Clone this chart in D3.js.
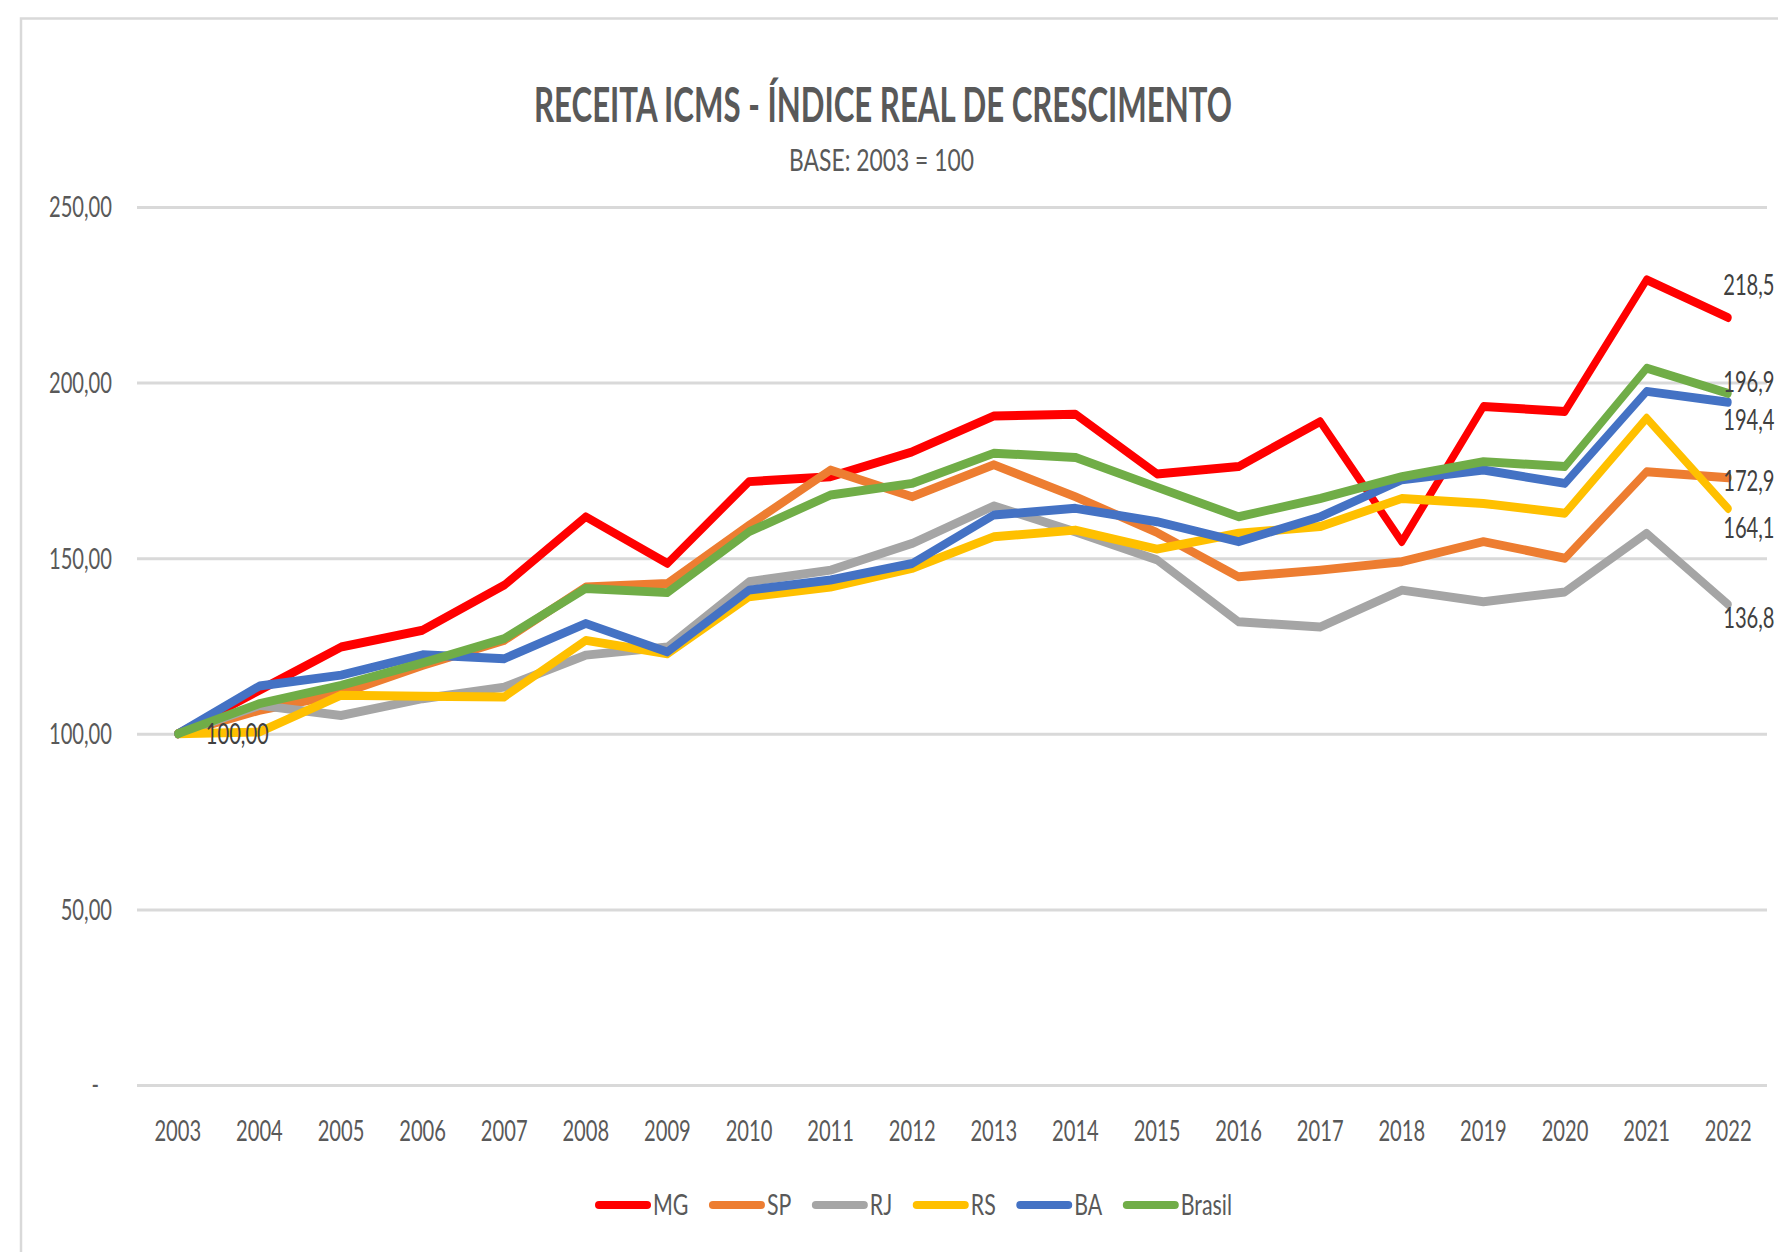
<!DOCTYPE html>
<html>
<head>
<meta charset="utf-8">
<script src="https://cdn.jsdelivr.net/npm/d3@7"></script>
<style>
  html, body { margin: 0; padding: 0; background: #ffffff; }
  svg { display: block; font-family: Lato, "Open Sans", sans-serif; }
</style>
</head>
<body>
<svg id="chart"></svg>
<script>
// 1. Data
const years = ["2003","2004","2005","2006","2007","2008","2009","2010","2011","2012",
  "2013","2014","2015","2016","2017","2018","2019","2020","2021","2022"];

const seriesNames = ["MG", "SP", "RJ", "RS", "BA", "Brasil"];
const seriesColors = ["#ff0000", "#ed7d31", "#a5a5a5", "#ffc000", "#4472c4", "#70ad47"];

const mg = [100, 112.4, 124.7, 129.5, 142.3, 161.8, 148.5, 171.8, 173.2, 180.3,
  190.5, 191.0, 174.0, 176.1, 188.9, 154.7, 193.2, 191.8, 229.3, 218.5];
const sp = [100, 106.7, 111.4, 119.5, 126.6, 141.8, 142.8, 159.4, 175.1, 167.5,
  176.6, 167.5, 157.3, 144.7, 146.6, 149.0, 154.7, 150.0, 174.6, 172.9];
const rj = [100, 108.1, 105.2, 110.0, 113.3, 122.4, 124.7, 143.3, 146.6, 154.2,
  164.9, 157.5, 149.5, 131.9, 130.4, 140.9, 137.6, 140.4, 157.1, 136.8];
const rs = [100, 100.5, 111.0, 110.7, 110.5, 126.6, 122.8, 139.0, 141.8, 147.1,
  156.1, 158.0, 152.6, 157.1, 159.0, 167.0, 165.6, 162.8, 189.9, 164.1];
const ba = [100, 113.6, 116.7, 122.5, 121.4, 131.4, 123.3, 140.9, 143.8, 148.5,
  162.3, 164.2, 160.4, 154.7, 161.8, 172.3, 175.1, 171.3, 197.5, 194.4];
const brasil = [100, 108.6, 113.8, 120.2, 127.1, 141.4, 140.2, 157.5, 168.0, 171.3,
  179.9, 178.7, 170.2, 161.8, 167.0, 173.2, 177.5, 176.1, 204.1, 196.9];

const seriesValues = [mg, sp, rj, rs, ba, brasil];
const yTicks = [0, 50, 100, 150, 200, 250];

// manual offsets of the end-of-line labels (as placed in the original)
const endLabelDy = [-32, 3, 14, 20, 18, -11];

// 2. SVG setup
const W = 1778, H = 1252;
const SX = 0.72;      // glyphs are squeezed horizontally in the original
const STRETCH = 1.3;  // lines are stretched vertically in the original
const textColor = "#595959";
const labelColor = "#404040";

const svg = d3.select("#chart").attr("width", W).attr("height", H);

svg.append("rect")
  .attr("x", 21).attr("y", 18.5)
  .attr("width", W).attr("height", H)
  .attr("fill", "#ffffff")
  .attr("stroke", "#d9d9d9")
  .attr("stroke-width", 2.5);

const ptBR = d3.formatLocale({ decimal: ",", thousands: ".", grouping: [3], currency: ["R$", ""] });
const fmt2 = ptBR.format(",.2f");
const fmt1 = ptBR.format(",.1f");

// 3. Scales
const x = d3.scaleBand().domain(years).range([137, 1769]);
const y = d3.scaleLinear().domain([0, 250]).range([1085, 207]);
const yL = y.copy().range(y.range().map((v) => v / STRETCH));
const xc = (yr) => x(yr) + x.bandwidth() / 2;

// 4. Gridlines and y axis
const yAxis = svg.append("g")
  .attr("transform", "translate(137,0)")
  .call(d3.axisLeft(y).tickValues(yTicks).tickSize(-(1767 - 137))
    .tickFormat((d) => (d === 0 ? "-" : fmt2(d))));
yAxis.select(".domain").remove();
yAxis.selectAll(".tick line").attr("stroke", "#d9d9d9").attr("stroke-width", 3);
yAxis.selectAll(".tick text")
  .attr("x", 0)
  .attr("dy", "0.35em")
  .attr("fill", textColor)
  .attr("font-size", 28)
  .attr("font-family", "Lato, 'Open Sans', sans-serif")
  .attr("transform", (d) => `translate(${d === 0 ? -38 : -25},0) scale(${SX},1)`);

// 5. x axis
const xAxis = svg.append("g")
  .attr("transform", `translate(0,${y(0)})`)
  .call(d3.axisBottom(x).tickSize(0));
xAxis.select(".domain").remove();
xAxis.selectAll(".tick text")
  .attr("y", 0)
  .attr("dy", 0)
  .attr("fill", textColor)
  .attr("font-size", 28)
  .attr("font-family", "Lato, 'Open Sans', sans-serif")
  .attr("transform", `translate(0,55.7) scale(${SX},1)`);

// 6. Lines (drawn in a squeezed space, then stretched back like the original)
const line = d3.line()
  .x((d, i) => xc(years[i]))
  .y((d) => yL(d));

svg.append("g")
  .attr("transform", `scale(1,${STRETCH})`)
  .selectAll("path")
  .data(seriesValues)
  .enter()
  .append("path")
  .attr("d", (d) => line(d))
  .attr("fill", "none")
  .attr("stroke", (d, i) => seriesColors[i])
  .attr("stroke-width", 6.9)
  .attr("stroke-linejoin", "round")
  .attr("stroke-linecap", "round");

// 7. Data labels
const labels = svg.append("g")
  .attr("fill", labelColor)
  .attr("font-size", 28);

labels.append("text")
  .attr("transform", `translate(${xc(years[0]) + 28},${y(rs[0])}) scale(${SX},1)`)
  .attr("dy", "0.35em")
  .text(fmt2(rs[0]));

labels.selectAll(".end-label")
  .data(seriesValues)
  .enter()
  .append("text")
  .attr("class", "end-label")
  .attr("transform", (d, i) =>
    `translate(${xc(years[years.length - 1]) - 5},${y(d[d.length - 1]) + endLabelDy[i]}) scale(${SX},1)`)
  .attr("dy", "0.35em")
  .text((d) => fmt1(d[d.length - 1]));

// 8. Title and subtitle
svg.append("text")
  .attr("x", 883)
  .attr("y", 121.7)
  .attr("text-anchor", "middle")
  .attr("font-size", 47)
  .attr("font-weight", "bold")
  .attr("fill", textColor)
  .attr("textLength", 698)
  .attr("lengthAdjust", "spacingAndGlyphs")
  .text("RECEITA ICMS - ÍNDICE REAL DE CRESCIMENTO");

svg.append("text")
  .attr("x", 881.5)
  .attr("y", 170.7)
  .attr("text-anchor", "middle")
  .attr("font-size", 31)
  .attr("fill", textColor)
  .attr("textLength", 185)
  .attr("lengthAdjust", "spacingAndGlyphs")
  .text("BASE: 2003 = 100");

// 9. Legend
const legend = svg.append("g");
let lx = 595;
const ly = 1205;
seriesNames.forEach((name, i) => {
  legend.append("line")
    .attr("x1", lx + 4).attr("x2", lx + 52)
    .attr("y1", ly).attr("y2", ly)
    .attr("stroke", seriesColors[i])
    .attr("stroke-width", 8)
    .attr("stroke-linecap", "round");
  const t = legend.append("text")
    .attr("transform", `translate(${lx + 58},${ly}) scale(${SX * 1.06},1)`)
    .attr("dy", "0.35em")
    .attr("font-size", 28)
    .attr("fill", textColor)
    .text(name);
  lx += 58 + t.node().getComputedTextLength() * SX * 1.06 + 20.5;
});
</script>
</body>
</html>
